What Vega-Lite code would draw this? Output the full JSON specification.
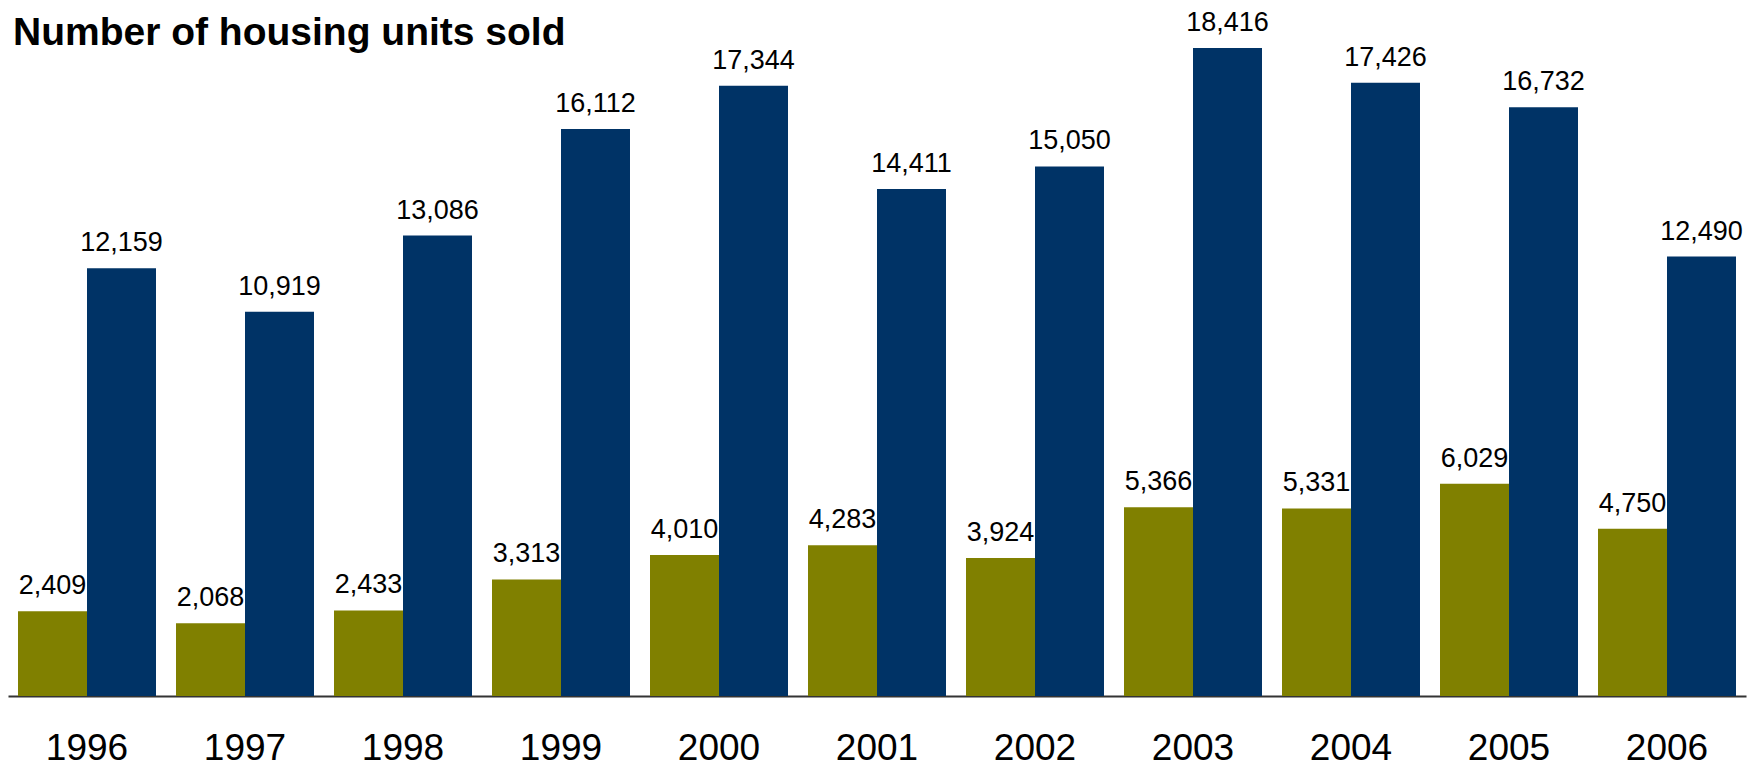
{
  "$schema": "https://vega.github.io/schema/vega-lite/v6.json",
  "width": 1738,
  "height": 696,
  "autosize": {"type": "none"},
  "padding": {"left": 8, "top": 0, "right": 16, "bottom": 74},
  "background": "white",
  "title": {
    "text": "Number of housing units sold",
    "anchor": "start",
    "frame": "group",
    "baseline": "alphabetic",
    "offset": 0,
    "dy": 84,
    "dx": 5,
    "fontSize": 39,
    "font": "Liberation Sans",
    "fontWeight": "bold",
    "color": "#000000"
  },
  "data": {
    "values": [
      {"year": "1996", "series": "Series 1", "units": 2409},
      {"year": "1996", "series": "Series 2", "units": 12159},
      {"year": "1997", "series": "Series 1", "units": 2068},
      {"year": "1997", "series": "Series 2", "units": 10919},
      {"year": "1998", "series": "Series 1", "units": 2433},
      {"year": "1998", "series": "Series 2", "units": 13086},
      {"year": "1999", "series": "Series 1", "units": 3313},
      {"year": "1999", "series": "Series 2", "units": 16112},
      {"year": "2000", "series": "Series 1", "units": 4010},
      {"year": "2000", "series": "Series 2", "units": 17344},
      {"year": "2001", "series": "Series 1", "units": 4283},
      {"year": "2001", "series": "Series 2", "units": 14411},
      {"year": "2002", "series": "Series 1", "units": 3924},
      {"year": "2002", "series": "Series 2", "units": 15050},
      {"year": "2003", "series": "Series 1", "units": 5366},
      {"year": "2003", "series": "Series 2", "units": 18416},
      {"year": "2004", "series": "Series 1", "units": 5331},
      {"year": "2004", "series": "Series 2", "units": 17426},
      {"year": "2005", "series": "Series 1", "units": 6029},
      {"year": "2005", "series": "Series 2", "units": 16732},
      {"year": "2006", "series": "Series 1", "units": 4750},
      {"year": "2006", "series": "Series 2", "units": 12490}
    ]
  },
  "encoding": {
    "x": {
      "field": "year",
      "type": "nominal",
      "scale": {"paddingInner": 0.1266, "paddingOuter": 0.0633},
      "axis": {
        "title": null,
        "domainColor": "#333333",
        "domainWidth": 2,
        "ticks": false,
        "tickSize": 0,
        "labelAngle": 0,
        "labelFontSize": 37,
        "labelFont": "Liberation Sans",
        "labelColor": "#000000",
        "labelBaseline": "alphabetic",
        "labelPadding": 63
      }
    },
    "xOffset": {
      "field": "series",
      "type": "nominal",
      "scale": {"paddingInner": 0, "paddingOuter": 0}
    },
    "y": {
      "field": "units",
      "type": "quantitative",
      "scale": {"domain": [0, 19780], "nice": false},
      "axis": null
    }
  },
  "layer": [
    {
      "mark": {"type": "bar"},
      "encoding": {
        "color": {
          "field": "series",
          "type": "nominal",
          "scale": {"range": ["#808000", "#003366"]},
          "legend": null
        }
      }
    },
    {
      "mark": {
        "type": "text",
        "baseline": "alphabetic",
        "dy": -17,
        "fontSize": 27,
        "font": "Liberation Sans Narrow, Liberation Sans",
        "color": "#000000"
      },
      "encoding": {
        "text": {"field": "units", "type": "quantitative", "format": ","}
      }
    }
  ],
  "config": {"view": {"stroke": null}}
}
